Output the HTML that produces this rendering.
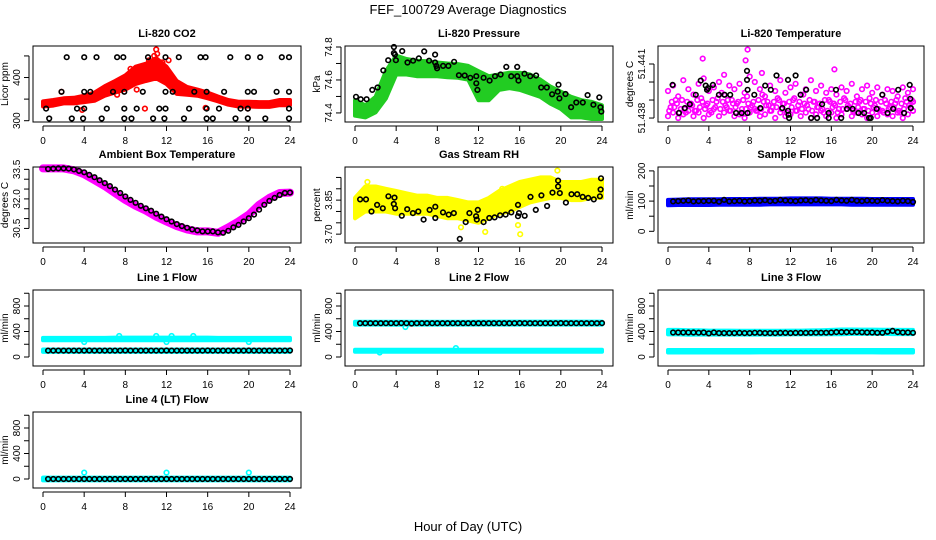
<!DOCTYPE html>
<html><head><meta charset="utf-8"><style>
html,body{margin:0;padding:0;background:#fff;}
svg{display:block;font-family:"Liberation Sans",sans-serif;}
</style></head><body>
<svg id="chart" width="936" height="540" viewBox="0 0 936 540" xmlns="http://www.w3.org/2000/svg">
<text x="468" y="14" text-anchor="middle" font-size="13">FEF_100729  Average Diagnostics</text>
<text x="468" y="531" text-anchor="middle" font-size="13">Hour of Day (UTC)</text>
</svg>
<script>
// ---------- data ----------
const HOURS=[0,1,2,3,4,5,6,7,8,9,10,11,12,13,14,15,16,17,18,19,20,21,22,23,24];
const XTICKS=[0,4,8,12,16,20,24];
// CO2
const co2Lo=[333,335,340,340,343,346,358,365,372,385,392,398,385,362,360,358,352,345,337,333,333,332,332,336,336];
const co2Hi=[345,348,352,353,358,365,380,392,405,425,432,445,425,392,378,372,365,356,348,344,344,343,343,348,348];
const co2OutT=[11.0,11.1,10.3,8.5,12.2,3.8,9.9,1.8,7.2,9.1,15.8,19.9,10.8,11.6];
const co2OutV=[465,455,440,420,440,325,328,367,360,372,330,328,450,435];
const co2BlkT=[2.3,4.0,5.2,7.2,7.8,10.2,11.9,13.2,15.3,15.8,18.2,19.9,21.1,23.2,23.9,
1.8,4.0,4.6,6.8,7.9,9.7,11.9,12.6,14.7,15.9,17.6,19.9,20.5,22.7,23.9,
0.3,3.3,4.0,6.2,7.9,9.1,11.3,11.9,14.2,15.9,17.1,19.2,19.9,23.9,
0.6,2.8,3.9,5.7,7.9,8.6,10.7,11.8,13.7,15.9,16.5,18.7,19.9,21.6,23.9];
const co2BlkV=[447,447,447,447,447,447,447,447,447,447,447,447,447,447,447,
367,367,367,367,367,367,367,367,367,367,367,367,367,367,367,
328,328,328,328,328,328,328,328,328,328,328,328,328,328,
305,305,305,305,305,305,305,305,305,305,305,305,305,305,305];
// Pressure
const prTop=[74.477,74.446,74.498,74.654,74.748,74.727,74.717,74.713,74.706,74.700,74.696,74.685,74.654,74.623,74.633,74.644,74.644,74.633,74.602,74.560,74.529,74.498,74.477,74.467,74.446];
const prBot=[74.383,74.373,74.404,74.488,74.633,74.633,74.623,74.623,74.623,74.617,74.613,74.602,74.477,74.477,74.540,74.550,74.540,74.519,74.498,74.456,74.425,74.373,74.373,74.363,74.363];
const prBlkT=[0.1,0.55,1.13,1.68,2.2,2.75,3.23,3.78,3.78,3.88,3.97,4.59,5.1,5.65,6.2,6.72,7.2,7.78,7.78,7.91,7.98,8.56,9.08,9.63,10.1,10.66,11.2,11.79,11.79,11.89,12.5,13.08,13.6,14.15,14.7,15.18,15.76,15.76,15.89,16.47,17.02,17.6,18.09,18.64,19.15,19.7,19.77,19.86,20.45,21.0,21.5,22.13,22.6,23.16,23.74,23.84,23.93];
const prBlkV=[74.498,74.483,74.483,74.54,74.554,74.658,74.72,74.80,74.763,74.754,74.72,74.775,74.706,74.717,74.731,74.773,74.717,74.754,74.706,74.685,74.671,74.685,74.685,74.71,74.629,74.627,74.613,74.623,74.58,74.54,74.613,74.596,74.623,74.633,74.679,74.623,74.679,74.623,74.596,74.638,74.623,74.627,74.554,74.554,74.513,74.529,74.571,74.488,74.515,74.435,74.463,74.463,74.508,74.45,74.494,74.435,74.408];
// Li-820 temperature
const magA=[51.4386,51.4390,51.4385,51.4383,51.4388,51.4384,51.4391,51.4387,51.4383,51.4389,51.4394,51.4386,51.4390,51.4388,51.4385,51.4392,51.4387,51.4384,51.4393,51.4389,51.4386,51.4391,51.4388,51.4384,51.4390,51.4387,51.4393,51.4385,51.4389,51.4386,51.4383,51.4390,51.4388,51.4385,51.4391,51.4386,51.4383,51.4389,51.4385,51.4391,51.4387,51.4384,51.4390,51.4386,51.4388,51.4383,51.4391,51.4386,51.4389];
const magB=[51.4395,51.4398,51.4392,51.4401,51.4396,51.4393,51.4399,51.4402,51.4395,51.4397,51.4400,51.4393,51.4398,51.4396,51.4399,51.4394,51.4403,51.4400,51.4396,51.4392,51.4398,51.4395,51.4401,51.4394,51.4397,51.4399,51.4393,51.4396,51.4401,51.4395,51.4398,51.4394,51.4396,51.4393,51.4397,51.4395,51.4399,51.4392,51.4396,51.4398,51.4394,51.4397,51.4393,51.4396,51.4395,51.4392,51.4397,51.4394,51.4396];
const magC=[51.4381,51.4383,51.4380,51.4382,51.4384,51.4381,51.4383,51.4380,51.4382,51.4385,51.4381,51.4383,51.4384,51.4381,51.4382,51.4380,51.4383,51.4385,51.4381,51.4382,51.4384,51.4380,51.4383,51.4381,51.4382,51.4384,51.4381,51.4383,51.4380,51.4382,51.4384,51.4381,51.4383,51.4380,51.4382,51.4385,51.4381,51.4383,51.4382,51.4380,51.4383,51.4381,51.4384,51.4382,51.4381,51.4383,51.4380,51.4382,51.4384];
const magD=[51.4389,51.4388,51.4390,51.4389,51.4387,51.4390,51.4389,51.4388,51.4390,51.4391,51.4389,51.4390,51.4388,51.4389,51.4390,51.4388,51.4389,51.4390,51.4389,51.4387,51.4389,51.4390,51.4388,51.4389,51.4391,51.4389,51.4388,51.4390,51.4389,51.4388,51.4390,51.4389,51.4387,51.4389,51.4390,51.4388,51.4389,51.4390,51.4389,51.4388,51.4390,51.4389,51.4388,51.4389,51.4390,51.4388,51.4389,51.4390,51.4389];
const magE=[51.4384,51.4386,51.4383,51.4385,51.4387,51.4384,51.4386,51.4385,51.4384,51.4386,51.4385,51.4387,51.4384,51.4386,51.4383,51.4385,51.4386,51.4384,51.4385,51.4387,51.4384,51.4386,51.4385,51.4383,51.4386,51.4384,51.4385,51.4387,51.4384,51.4386,51.4385,51.4384,51.4386,51.4383,51.4385,51.4387,51.4384,51.4386,51.4385,51.4384,51.4386,51.4385,51.4383,51.4385,51.4386,51.4384,51.4385,51.4387,51.4384];
const magOutT=[7.8,7.6,3.4,16.3,9.2,5.5];
const magOutV=[51.4418,51.4412,51.4413,51.4407,51.4405,51.4404];
const tBlkT=[0.45,1.07,1.65,2.14,2.72,3.2,3.69,3.82,3.92,4.4,4.99,5.54,6.09,6.67,7.22,7.74,7.74,7.8,7.8,8.45,9.04,9.52,10.07,10.63,11.2,11.76,11.76,11.8,11.86,12.5,12.99,13.54,14.03,14.61,15.1,15.74,15.74,16.46,16.97,17.53,18.08,18.66,19.21,19.7,19.86,20.44,20.99,21.51,22.06,22.55,23.13,23.68,23.74,23.78];
const tBlkV=[51.43984,51.43828,51.43855,51.43877,51.43929,51.44008,51.4398,51.43957,51.43966,51.43984,51.43929,51.43929,51.43929,51.43828,51.43828,51.44062,51.44012,51.43957,51.43828,51.43929,51.43855,51.4398,51.43957,51.44036,51.43855,51.44012,51.4384,51.43818,51.438,51.44036,51.43929,51.43957,51.438,51.438,51.43877,51.43828,51.438,51.43957,51.438,51.43851,51.43851,51.43828,51.43828,51.438,51.438,51.43851,51.43929,51.43828,51.43851,51.43957,51.43828,51.43984,51.43907,51.43855];
// Ambient box temperature
const ambMid=[33.55,33.55,33.55,33.45,33.25,32.95,32.65,32.3,31.95,31.65,31.4,31.1,30.85,30.62,30.45,30.35,30.35,30.28,30.55,30.85,31.2,31.7,32.05,32.3,32.32];
const ambBlk=[33.52,33.54,33.55,33.55,33.54,33.5,33.42,33.35,33.22,33.1,32.95,32.8,32.65,32.47,32.3,32.12,31.95,31.8,31.65,31.52,31.4,31.25,31.1,30.97,30.85,30.72,30.62,30.53,30.45,30.4,30.35,30.35,30.35,30.3,30.28,30.38,30.55,30.68,30.85,31.02,31.2,31.45,31.7,31.9,32.05,32.2,32.3,32.32];
// Gas stream RH
const rhLo=[3.77,3.80,3.80,3.80,3.79,3.79,3.79,3.79,3.78,3.77,3.77,3.76,3.75,3.77,3.79,3.80,3.82,3.84,3.85,3.86,3.86,3.85,3.85,3.86,3.86];
const rhHi=[3.86,3.91,3.91,3.90,3.89,3.88,3.87,3.87,3.86,3.86,3.85,3.84,3.84,3.86,3.89,3.91,3.93,3.94,3.95,3.95,3.93,3.93,3.93,3.94,3.94];
const rhOutT=[19.67,16.05,12.65,15.84,10.3,1.2,14.3];
const rhOutV=[3.98,3.70,3.71,3.74,3.73,3.93,3.9];
const rhBlkT=[0.5,1.07,1.6,2.15,2.7,3.25,3.77,3.84,3.9,4.55,5.07,5.63,6.15,6.67,7.25,7.8,7.8,8.55,9.1,9.6,10.18,10.76,11.12,11.77,11.83,11.93,12.5,13.05,13.56,14.1,14.63,15.19,15.84,15.84,15.94,16.49,17.05,17.57,18.11,18.67,19.19,19.73,19.73,19.9,20.49,21.04,21.59,22.12,22.66,23.2,23.8,23.86,23.9];
const rhBlkV=[3.853,3.853,3.80,3.829,3.814,3.867,3.833,3.861,3.814,3.781,3.81,3.793,3.80,3.764,3.807,3.821,3.771,3.796,3.786,3.793,3.679,3.753,3.793,3.779,3.764,3.807,3.753,3.771,3.774,3.783,3.786,3.796,3.779,3.829,3.793,3.781,3.864,3.807,3.871,3.824,3.883,3.91,3.936,3.881,3.839,3.876,3.876,3.864,3.86,3.853,3.867,3.897,3.946];
// Sample flow
const sfLo=[86,87,87,87,87,88,88,88,88,88,89,89,89,89,89,89,89,89,88,88,88,88,88,88,88];
const sfHi=[104,105,106,106,106,106,107,107,107,108,108,108,109,109,109,109,108,108,108,108,107,107,107,107,107];
const sfBlk=[99,100,101,102,99,100,100,101,101,98,104,99,100,101,99,100,102,101,103,100,101,104,102,101,100,102,103,101,104,102,101,100,104,102,101,104,101,100,102,101,100,103,101,100,99,101,100,97];
// Line flows
const l1UpLo=[262,262,262,262,262,262,262,262,262,262,262,262,262,262,262,262,262,262,262,262,262,262,262,262,262];
const l1UpHi=[300,300,300,300,300,300,300,305,305,305,305,305,305,305,305,305,305,300,300,300,300,300,300,300,300];
const l1OutT=[4.0,12.0,20.0,7.4,11.0,12.5,14.6];
const l1OutV=[235,235,235,330,330,330,330];
const l1LoLo=[80,80,80,80,80,80,80,80,80,80,80,80,80,80,80,80,80,80,80,80,80,80,80,80,80];
const l1LoHi=[118,118,118,118,118,118,118,118,118,118,118,118,118,118,118,118,118,118,118,118,118,118,118,118,118];
const l1Blk=[100,100,100,100,100,100,100,100,102,100,100,100,100,100,100,102,100,100,100,100,100,100,100,102,100,100,100,100,100,100,100,102,100,100,100,100,100,100,100,102,100,100,100,100,100,100,100,102];
const l2UpLo=[508,508,508,508,505,508,508,508,508,508,508,508,508,508,508,508,508,508,508,508,508,508,508,508,508];
const l2UpHi=[552,552,552,552,552,552,552,552,552,552,552,552,555,555,555,555,555,555,555,555,555,555,555,555,555];
const l2LoLo=[82,82,82,82,82,82,82,82,82,82,82,82,82,82,82,82,82,82,82,82,82,82,82,82,82];
const l2LoHi=[115,115,115,115,115,115,115,115,115,115,115,115,115,115,115,115,115,115,115,115,115,115,115,115,115];
const l2OutT=[4.9,2.4,9.8];
const l2OutV=[470,70,140];
const l2Blk=[530,530,530,530,530,530,530,530,532,530,525,530,530,530,530,530,530,530,530,530,530,530,530,530,530,530,530,530,530,530,530,532,530,530,530,530,530,530,530,532,530,530,530,530,530,530,530,532];
const l3UpLo=[355,355,350,352,352,352,352,352,352,352,352,352,355,355,355,355,358,358,362,362,362,362,360,360,360];
const l3UpHi=[425,425,420,420,415,415,415,412,412,412,412,412,415,415,418,420,425,432,432,430,430,428,428,425,425];
const l3LoLo=[70,70,70,70,70,70,70,70,70,72,72,72,72,72,72,72,72,72,72,72,72,70,70,70,70];
const l3LoHi=[110,110,110,110,110,110,110,110,110,110,110,110,110,110,110,110,110,110,110,110,110,110,110,110,110];
const l3Blk=[385,385,385,385,385,382,385,370,385,375,375,375,375,378,375,375,380,378,375,375,375,378,378,375,378,378,378,380,382,382,382,385,390,390,390,390,390,388,385,385,380,380,395,410,390,385,385,380];
const l4LoV=[-22,-22,-22,-22,-22,-22,-22,-22,-22,-22,-22,-22,-22,-22,-22,-22,-22,-22,-22,-22,-22,-22,-22,-22,-22];
const l4HiV=[22,22,22,22,22,22,22,22,22,22,22,22,22,22,22,22,22,22,22,22,22,22,22,22,22];
const l4OutT=[4.0,12.0,20.0,0.1,0.2];
const l4OutV=[100,100,100,5,5];
const l4Blk=[0,0,0,0,0,0,0,0,0,0,0,0,0,0,0,0,0,0,0,0,0,0,0,0,0,0,0,0,0,0,0,0,0,0,0,0,0,0,0,0,0,0,0,0,0,0,0,0];

// ---------- layout ----------
const svg=document.getElementById('chart');
const NS='http://www.w3.org/2000/svg';
const COLL=[33,345,658], COLR=[301,613,924];
const ROWT=[46,167,290,412], PH=76;
function mk(tag,attrs,parent){const e=document.createElementNS(NS,tag);for(const k in attrs)e.setAttribute(k,attrs[k]);(parent||svg).appendChild(e);return e;}

function panel(name,col,row,title,ylab,ymin,ymax,ticks,labels){
  const L=COLL[col],R=COLR[col],T=ROWT[row],B=T+PH;
  const g=mk('g',{});
  
  
  const p={g:g,L:L,R:R,T:T,B:B,
    x:h=>L+10+h*(R-L-21)/24,
    y:v=>B-(v-ymin)/(ymax-ymin)*(B-T)};
  const t=mk('text',{x:(L+R)/2,y:T-9,'text-anchor':'middle','font-size':11,'font-weight':'bold'},g);
  t.textContent=title;
  
  
  const plot=mk('g',{},g);
  
  
  p.plot=plot;
  const box=mk('rect',{x:L,y:T,width:R-L,height:B-T,fill:'none',stroke:'#000','stroke-width':1},g);
  
  
  const xa=mk('g',{},g);
  
  
  mk('line',{x1:p.x(0),x2:p.x(24),y1:B+4,y2:B+4,stroke:'#000'},xa);
  XTICKS.forEach(h=>{
    mk('line',{x1:p.x(h),x2:p.x(h),y1:B+4,y2:B+9,stroke:'#000'},xa);
    const tx=mk('text',{x:p.x(h),y:B+22,'text-anchor':'middle','font-size':10},xa);
    tx.textContent=h;
    
    
  });
  const ya=mk('g',{},g);
  
  
  mk('line',{x1:L-4,x2:L-4,y1:p.y(ticks[0]),y2:p.y(ticks[ticks.length-1]),stroke:'#000'},ya);
  ticks.forEach((v,i)=>{
    const yy=p.y(v);
    mk('line',{x1:L-9,x2:L-4,y1:yy,y2:yy,stroke:'#000'},ya);
    if(labels[i]!==''){
      const tx=mk('text',{x:L-13,y:yy,'text-anchor':'middle','font-size':10,transform:`rotate(-90 ${L-13} ${yy})`},ya);
      tx.textContent=labels[i];
      
      
    }
  });
  const yl=mk('text',{x:L-25,y:(T+B)/2,'text-anchor':'middle','font-size':10,transform:`rotate(-90 ${L-25} ${(T+B)/2})`},ya);
  yl.textContent=ylab;
  
  
  return p;
}
function band(p,times,lo,hi,color,nm){
  let d='';
  times.forEach((h,i)=>{d+=(i?'L':'M')+p.x(h).toFixed(1)+','+p.y(hi[i]).toFixed(1);});
  for(let i=times.length-1;i>=0;i--)d+='L'+p.x(times[i]).toFixed(1)+','+p.y(lo[i]).toFixed(1);
  const e=mk('path',{d:d+'Z',fill:color,stroke:color,'stroke-width':4,'stroke-linejoin':'round'},p.plot);
  
  
}
function thick(p,times,vals,color,w,nm){
  const e=mk('polyline',{points:times.map((h,i)=>p.x(h).toFixed(1)+','+p.y(vals[i]).toFixed(1)).join(' '),fill:'none',stroke:color,'stroke-width':w,'stroke-linecap':'round','stroke-linejoin':'round'},p.plot);
  
  
}
function pts(p,times,vals,color,nm){
  const g=mk('g',{},p.plot);
  
  
  times.forEach((h,i)=>{
    const c=mk('circle',{cx:p.x(h).toFixed(1),cy:p.y(vals[i]).toFixed(1),r:2.3,fill:'none',stroke:color,'stroke-width':1.6},g);
    
    
  });
}
const HALF=[];for(let i=1;i<=48;i++)HALF.push(i*0.5);
const HALF0=[];for(let i=0;i<=48;i++)HALF0.push(i*0.5);
const HALFQ=HALF0.map(h=>Math.min(24,h+0.25));
const HALFE=HALF0.map(h=>Math.min(24,h+0.12));
const HALFF=HALF0.map(h=>Math.min(24,h+0.37));

let p=panel('co2',0,0,'Li-820 CO2','Licor ppm',297,473,[300,350,400,450],['300','','400','']);
band(p,HOURS,co2Lo,co2Hi,'#ff0000','co2-band');
pts(p,co2OutT,co2OutV,'#ff0000','co2-outliers');
pts(p,co2BlkT,co2BlkV,'#000','co2-averages');

p=panel('pressure',1,0,'Li-820 Pressure','kPa',74.345,74.806,[74.4,74.5,74.6,74.7,74.8],['74.4','','74.6','','74.8']);
band(p,HOURS,prBot,prTop,'#22cc22','pressure-band');
pts(p,prBlkT,prBlkV,'#000','pressure-averages');

p=panel('licor-temp',2,0,'Li-820 Temperature','degrees C',51.43778,51.44200,[51.438,51.439,51.440,51.441],['51.438','','','51.441']);
pts(p,HALF0,magC,'#ff00ff','temp-low-points');
pts(p,HALFE,magE,'#ff00ff','temp-lowmid-points');
pts(p,HALFQ,magA,'#ff00ff','temp-mid-points');
pts(p,HALFF,magD,'#ff00ff','temp-band-points');
pts(p,HALF0,magB,'#ff00ff','temp-high-points');
pts(p,magOutT,magOutV,'#ff00ff','temp-outliers');
pts(p,tBlkT,tBlkV,'#000','temp-averages');

p=panel('ambient',0,1,'Ambient Box Temperature','degrees C',29.76,33.62,[30.5,31,31.5,32,32.5,33,33.5],['30.5','','','32.0','','','33.5']);
thick(p,HOURS,ambMid,'#ff00ff',8,'ambient-band');
pts(p,HALF,ambBlk,'#000','ambient-averages');

p=panel('rh',1,1,'Gas Stream RH','percent',3.661,3.996,[3.70,3.75,3.80,3.85,3.90,3.95],['3.70','','','3.85','','']);
band(p,HOURS,rhLo,rhHi,'#ffff00','rh-band');
pts(p,rhOutT,rhOutV,'#ffff00','rh-outliers');
pts(p,rhBlkT,rhBlkV,'#000','rh-averages');

p=panel('sample-flow',2,1,'Sample Flow','ml/min',-38.7,212.9,[0,50,100,150,200],['0','','100','','200']);
band(p,HOURS,sfLo,sfHi,'#0000ff','sample-flow-band');
pts(p,HALF,sfBlk,'#000','sample-flow-averages');

const LT=[0,200,400,600,800,1000], LL=['0','','400','','800',''];
p=panel('line1',0,2,'Line 1 Flow','ml/min',-141,1051,LT,LL);
band(p,HOURS,l1UpLo,l1UpHi,'#00ffff','line1-upper-band');
band(p,HOURS,l1LoLo,l1LoHi,'#00ffff','line1-lower-band');
pts(p,l1OutT,l1OutV,'#00ffff','line1-outliers');
pts(p,HALF,l1Blk,'#000','line1-averages');
p=panel('line2',1,2,'Line 2 Flow','ml/min',-141,1051,LT,LL);
band(p,HOURS,l2UpLo,l2UpHi,'#00ffff','line2-upper-band');
band(p,HOURS,l2LoLo,l2LoHi,'#00ffff','line2-lower-band');
pts(p,l2OutT,l2OutV,'#00ffff','line2-outliers');
pts(p,HALF,l2Blk,'#000','line2-averages');
p=panel('line3',2,2,'Line 3 Flow','ml/min',-141,1051,LT,LL);
band(p,HOURS,l3UpLo,l3UpHi,'#00ffff','line3-upper-band');
band(p,HOURS,l3LoLo,l3LoHi,'#00ffff','line3-lower-band');
pts(p,HALF,l3Blk,'#000','line3-averages');
p=panel('line4',0,3,'Line 4 (LT) Flow','ml/min',-141,1051,LT,LL);
band(p,HOURS,l4LoV,l4HiV,'#00ffff','line4-band');
pts(p,l4OutT,l4OutV,'#00ffff','line4-outliers');
pts(p,HALF,l4Blk,'#000','line4-averages');
</script>
</body></html>
